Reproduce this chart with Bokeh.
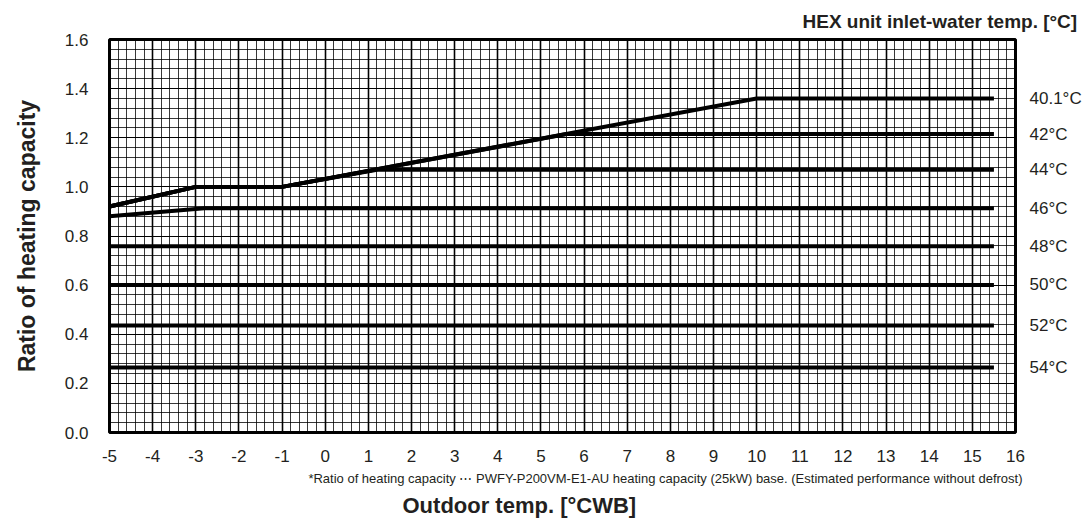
from bokeh.plotting import figure
from bokeh.models import (Range1d, SingleIntervalTicker, FixedTicker, PrintfTickFormatter,
                          LinearAxis, Title)
from bokeh.embed import file_html
from bokeh.resources import INLINE

# Outdoor temperature [°CWB] break points and capacity ratio for each inlet-water temperature
inlet_labels = ["40.1°C", "42°C", "44°C", "46°C", "48°C", "50°C", "52°C", "54°C"]

x_401 = [-5, -3, -1, 10, 15.5]
y_401 = [0.92, 1.00, 1.00, 1.36, 1.36]

x_42 = [-5, -3, -1, 5.6, 15.5]
y_42 = [0.92, 1.00, 1.00, 1.215, 1.215]

x_44 = [-5, -3, -1, 1.2, 15.5]
y_44 = [0.92, 1.00, 1.00, 1.07, 1.07]

x_46 = [-5, -2.8, 15.5]
y_46 = [0.88, 0.913, 0.913]

x_48 = [-5, 15.5]
y_48 = [0.758, 0.758]

x_50 = [-5, 15.5]
y_50 = [0.601, 0.601]

x_52 = [-5, 15.5]
y_52 = [0.436, 0.436]

x_54 = [-5, 15.5]
y_54 = [0.265, 0.265]

series_x = [x_401, x_42, x_44, x_46, x_48, x_50, x_52, x_54]
series_y = [y_401, y_42, y_44, y_46, y_48, y_50, y_52, y_54]

X_START, X_END = -5, 16
Y_START, Y_END = 0, 1.6

FONT = "Liberation Sans"
TEXT = "#231f20"

p = figure(width=1092, height=520, output_backend="svg", toolbar_location=None,
           x_range=Range1d(X_START, X_END), y_range=Range1d(Y_START, Y_END),
           min_border_left=109, min_border_right=77, min_border_top=39, min_border_bottom=88)

p.background_fill_color = "white"
p.border_fill_color = "white"
p.outline_line_color = "black"
p.outline_line_width = 3

# graph-paper grid: 0.2 °C and 0.04 ratio subdivisions
p.xaxis.ticker = SingleIntervalTicker(interval=1, num_minor_ticks=5)
p.yaxis.ticker = SingleIntervalTicker(interval=0.2, num_minor_ticks=5)
p.xgrid.ticker = p.xaxis.ticker
p.ygrid.ticker = p.yaxis.ticker

for g in (p.xgrid, p.ygrid):
    g.grid_line_color = "black"
    g.grid_line_alpha = 1.0
    g.minor_grid_line_color = "black"
    g.minor_grid_line_alpha = 0.78
    g.minor_grid_line_width = 1
p.xgrid.grid_line_width = 1.6
p.ygrid.grid_line_width = 1.2

# inlet-water temperature tags on a right-hand axis, one tick per line end
tag_axis = LinearAxis(ticker=FixedTicker(ticks=[ys[-1] for ys in series_y]),
                      major_label_overrides={ys[-1]: name for name, ys in zip(inlet_labels, series_y)})
p.add_layout(tag_axis, "right")

for ax in (p.xaxis[0], p.yaxis[0], tag_axis):
    ax.axis_line_color = None
    ax.major_tick_line_color = None
    ax.minor_tick_line_color = None
    ax.major_tick_out = 0
    ax.major_tick_in = 0
    ax.minor_tick_out = 0
    ax.major_label_text_font = FONT
    ax.major_label_text_font_size = "17px"
    ax.major_label_text_color = TEXT

p.xaxis.major_label_standoff = 17
p.yaxis[0].major_label_standoff = 21
tag_axis.major_label_standoff = 14
p.xaxis.formatter = PrintfTickFormatter(format="%d")
p.yaxis[0].formatter = PrintfTickFormatter(format="%.1f")

p.yaxis[0].axis_label = "Ratio of heating capacity"
p.yaxis[0].axis_label_text_font = FONT
p.yaxis[0].axis_label_text_font_style = "bold"
p.yaxis[0].axis_label_text_font_size = "23px"
p.yaxis[0].axis_label_text_color = TEXT
p.yaxis[0].axis_label_standoff = 22

for xs, ys in zip(series_x, series_y):
    p.line(xs, ys, line_color="black", line_width=4, line_join="round")

p.add_layout(Title(text="HEX unit inlet-water temp. [°C]", align="left", offset=693,
                   text_font=FONT, text_font_style="bold", text_font_size="19px",
                   text_color=TEXT, standoff=16), "above")

p.add_layout(Title(text="*Ratio of heating capacity \u22ef PWFY-P200VM-E1-AU heating capacity (25kW) base. (Estimated performance without defrost)",
                   align="right", offset=-7, standoff=9,
                   text_font=FONT, text_font_size="13px",
                   text_font_style="normal", text_color=TEXT), "below")

p.add_layout(Title(text="Outdoor temp. [°CWB]", align="left", offset=293, standoff=0,
                   text_font=FONT, text_font_style="bold", text_font_size="22px",
                   text_color=TEXT), "below")

open("out.html", "w").write(file_html(p, INLINE))
